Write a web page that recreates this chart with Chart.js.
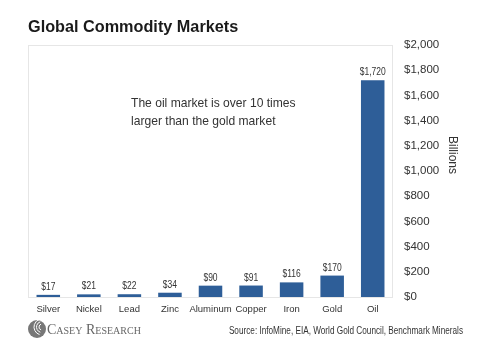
<!DOCTYPE html>
<html>
<head>
<meta charset="utf-8">
<script src="https://cdn.jsdelivr.net/npm/chart.js@4/dist/chart.umd.min.js"></script>
<style>
  html, body { margin: 0; padding: 0; background: #fff; }
  #wrap { width: 483px; height: 350px; }
</style>
</head>
<body>
<div id="wrap"><canvas id="marketChart" width="483" height="350"></canvas></div>
<script>
// data (billions of US$)
const commodities = ["Silver", "Nickel", "Lead", "Zinc", "Aluminum", "Copper", "Iron", "Gold", "Oil"];
const marketSize = [17, 21, 22, 34, 90, 91, 116, 170, 1720];
const yTicks = [0, 200, 400, 600, 800, 1000, 1200, 1400, 1600, 1800, 2000];

const barBlue = "#2E5E98";
const textGrey = "#333333";
const sans = "'Liberation Sans', Arial, sans-serif";

const money = v => "$" + v.toLocaleString("en-US");

// condensed text: squeeze horizontally to mimic Arial Narrow
function narrowText(ctx, txt, x, y, squeeze) {
    ctx.save();
    ctx.translate(x, y);
    ctx.scale(squeeze, 1);
    ctx.fillText(txt, 0, 0);
    ctx.restore();
}

// frame, value labels, title, note, footer
const decorations = {
    id: "decorations",
    beforeDatasetsDraw(chart) {
        const { ctx, chartArea: a } = chart;
        ctx.save();
        ctx.strokeStyle = "#e6e6e6";
        ctx.lineWidth = 1;
        ctx.strokeRect(a.left + 0.5, a.top + 0.5, a.right - a.left - 1, a.bottom - a.top);
        ctx.restore();
    },
    afterDraw(chart) {
        const { ctx } = chart;
        ctx.save();

        // value labels above bars
        ctx.fillStyle = textGrey;
        ctx.font = "10px " + sans;
        ctx.textAlign = "center";
        ctx.textBaseline = "alphabetic";
        chart.getDatasetMeta(0).data.forEach((bar, i) => {
            narrowText(ctx, money(marketSize[i]), bar.x, bar.y - 5, 0.85);
        });

        // title
        ctx.textAlign = "left";
        ctx.fillStyle = "#1a1a1a";
        ctx.font = "bold 17px " + sans;
        narrowText(ctx, "Global Commodity Markets", 28, 32, 0.955);

        // note
        ctx.fillStyle = textGrey;
        ctx.font = "13px " + sans;
        narrowText(ctx, "The oil market is over 10 times", 131, 107, 0.93);
        narrowText(ctx, "larger than the gold market", 131, 125, 0.93);

        // axis unit
        ctx.save();
        ctx.translate(452, 155);
        ctx.rotate(Math.PI / 2);
        ctx.textAlign = "center";
        ctx.textBaseline = "middle";
        ctx.font = "12px " + sans;
        ctx.fillText("Billions", 0, 0);
        ctx.restore();

        // logo
        ctx.fillStyle = "#777";
        ctx.beginPath();
        ctx.arc(37, 329, 9, 0, Math.PI * 2);
        ctx.fill();
        ctx.strokeStyle = "#fff";
        ctx.lineWidth = 1;
        for (let r = 3; r <= 8; r += 2.5) {
            ctx.beginPath();
            ctx.arc(42, 327, r, Math.PI * 0.6, Math.PI * 1.4);
            ctx.stroke();
        }
        ctx.fillStyle = "#666";
        ctx.font = "small-caps 14px 'Liberation Serif', 'Times New Roman', serif";
        ctx.fillText("Casey Research", 47, 334);

        // source
        ctx.fillStyle = textGrey;
        ctx.font = "10px " + sans;
        ctx.textAlign = "right";
        narrowText(ctx, "Source: InfoMine, EIA, World Gold Council, Benchmark Minerals", 463, 334, 0.82);

        ctx.restore();
    }
};

const ctx = document.getElementById("marketChart").getContext("2d");
const marketChart = new Chart(ctx, {
    type: "bar",
    data: {
        labels: commodities,
        datasets: [
            {
                label: "Market size",
                data: marketSize,
                backgroundColor: barBlue,
                borderWidth: 0,
                barPercentage: 0.58,
                categoryPercentage: 1.0,
            },
        ],
    },
    options: {
        responsive: false,
        animation: false,
        layout: { padding: { left: 28, top: 45, right: 0, bottom: 0 } },
        plugins: {
            legend: { display: false },
            tooltip: { enabled: false },
        },
        scales: {
            x: {
                grid: { display: false, drawTicks: false },
                border: { display: false },
                ticks: {
                    color: textGrey,
                    font: { family: sans, size: 9.5 },
                    padding: 7,
                    maxRotation: 0,
                    autoSkip: false,
                },
                afterFit: s => { s.height = 53; },
            },
            y: {
                position: "right",
                min: 0,
                max: 2000,
                grid: { display: false, drawTicks: false },
                border: { display: false },
                afterBuildTicks: s => { s.ticks = yTicks.map(v => ({ value: v })); },
                ticks: {
                    color: textGrey,
                    font: { family: sans, size: 11.5 },
                    padding: 11,
                    callback: v => money(v),
                },
                afterFit: s => { s.width = 90; },
            },
        },
    },
    plugins: [decorations],
});
</script>
</body>
</html>
